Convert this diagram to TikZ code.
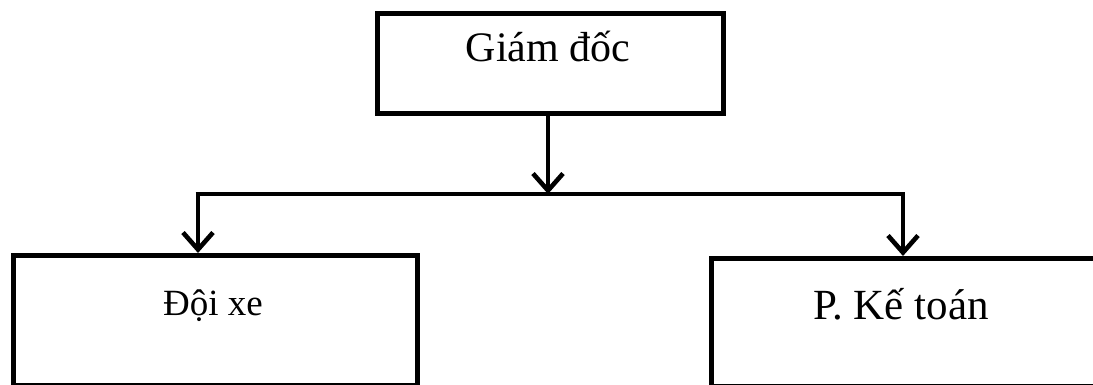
\documentclass[tikz,border=0pt]{standalone}
\usepackage{fontspec}
\setmainfont{Liberation Serif}
\usetikzlibrary{arrows.meta}
\begin{document}
\begin{tikzpicture}[x=1pt,y=-1pt,
  box/.style={draw=black,line width=4.6pt,fill=white,inner sep=0pt,anchor=north west},
  lbl/.style={inner sep=0pt,anchor=base},
  link/.style={line width=4.6pt,line cap=butt,line join=miter},
  tipped/.style={link,-{Straight Barb[length=17pt,width=30pt,line width=4.6pt]}}]
\useasboundingbox (0,0) rectangle (1093,385);
% boxes
\node[box,minimum width=346pt,minimum height=100pt] (gd) at (375,11) {};
\node[box,minimum width=404pt,minimum height=130pt] (dx) at (11,253) {};
\node[box,minimum width=384pt,minimum height=128pt] (kt) at (709,256) {};
% labels
\node[lbl,font=\fontsize{42}{42}\selectfont] (tgd) at (548,62) {Giám đốc};
\node[lbl,font=\fontsize{37}{37}\selectfont] (tdx) at (213,315) {Đội xe};
\node[lbl,font=\fontsize{43}{43}\selectfont] (tkt) at (901,319) {P. Kế toán};
% junction line
\coordinate (jc) at (548,194);
\coordinate (jl) at (198,194);
\coordinate (jr) at (903,194);
\draw[tipped] (gd.south -| jc) -- (jc);
\draw[link] ([xshift=-2.3pt]jl) -- ([xshift=2.3pt]jr);
\draw[link] ([yshift=-2.3pt]jl) -- (jl);
\draw[tipped] (jl) -- (jl |- dx.north);
\draw[tipped] (jr) -- (jr |- kt.north);
\end{tikzpicture}
\end{document}
